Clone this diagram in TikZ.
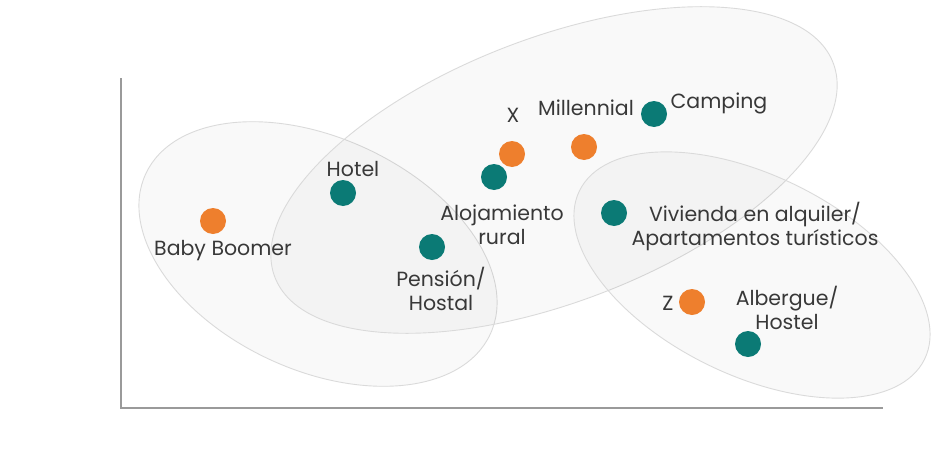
\documentclass[tikz,border=0pt]{standalone}
\usepackage{fontspec}
\setmainfont{Poppins}
\usetikzlibrary{positioning}
\definecolor{genorange}{HTML}{EE7F2D}
\definecolor{stayteal}{HTML}{0B7A75}
\definecolor{ringgray}{HTML}{DADADA}
\definecolor{labelgray}{HTML}{383838}
\definecolor{axisgray}{HTML}{9A9A9A}

\begin{document}
\begin{tikzpicture}[x=1pt, y=-1pt,
		cluster/.style={draw=ringgray, line width=0.9pt, fill=black, fill opacity=0.022},
		gen/.style={circle, fill=genorange, minimum size=26pt, inner sep=0pt},
		stay/.style={circle, fill=stayteal, minimum size=26pt, inner sep=0pt},
		tag/.style={text=labelgray, font=\fontsize{20.5}{24}\selectfont, inner sep=0pt, align=center},
		axis/.style={draw=axisgray, line width=1.4pt}]
		
		\useasboundingbox (0,0) rectangle (936,463);
		
		% Draw clusters
		\draw[cluster, rotate around={-25:(318,254)}] (318,254) ellipse [x radius=190, y radius=116];
		\draw[cluster, rotate around={21:(554,170)}] (554,170) ellipse [x radius=299, y radius=132];
		\draw[cluster, rotate around={-26:(752,275)}] (752,275) ellipse [x radius=192, y radius=100];
		
		% Draw axes
		\coordinate (ytop) at (121,78);
		\coordinate (origin) at (121,408);
		\coordinate (xend) at (883,408);
		\draw[axis] (ytop) -- (origin) -- (xend);
		
		% Generations
		\node[gen] (boomer) at (213,221) {};
		\node[gen] (genx) at (512,154) {};
		\node[gen] (millennial) at (584,147) {};
		\node[gen] (genz) at (692,302) {};
		
		% Lodging types
		\node[stay] (hotel) at (343,193) {};
		\node[stay] (pension) at (432,247) {};
		\node[stay] (rural) at (494,177) {};
		\node[stay] (camping) at (654,114) {};
		\node[stay] (vivienda) at (614,213) {};
		\node[stay] (albergue) at (748,344) {};
		
		% Add labels
		\node[tag] (boomerlabel) at (223,251) {Baby Boomer};
		\node[tag] (genxlabel) at (513,115) {X};
		\node[tag] (millenniallabel) at (586,108) {Millennial};
		\node[tag] (genzlabel) at (668,303) {Z};
		\node[tag] (hotellabel) at (353,169) {Hotel};
		\node[tag] (pensionlabel) at (441,289) {Pensión/\\Hostal};
		\node[tag] (rurallabel) at (502,225) {Alojamiento\\rural};
		\node[tag] (campinglabel) at (719,103) {Camping};
		\node[tag] (viviendalabel) at (755,227) {Vivienda en alquiler/\\Apartamentos turísticos};
		\node[tag] (alberguelabel) at (787,308) {Albergue/\\Hostel};
		
	\end{tikzpicture}
\end{document}
